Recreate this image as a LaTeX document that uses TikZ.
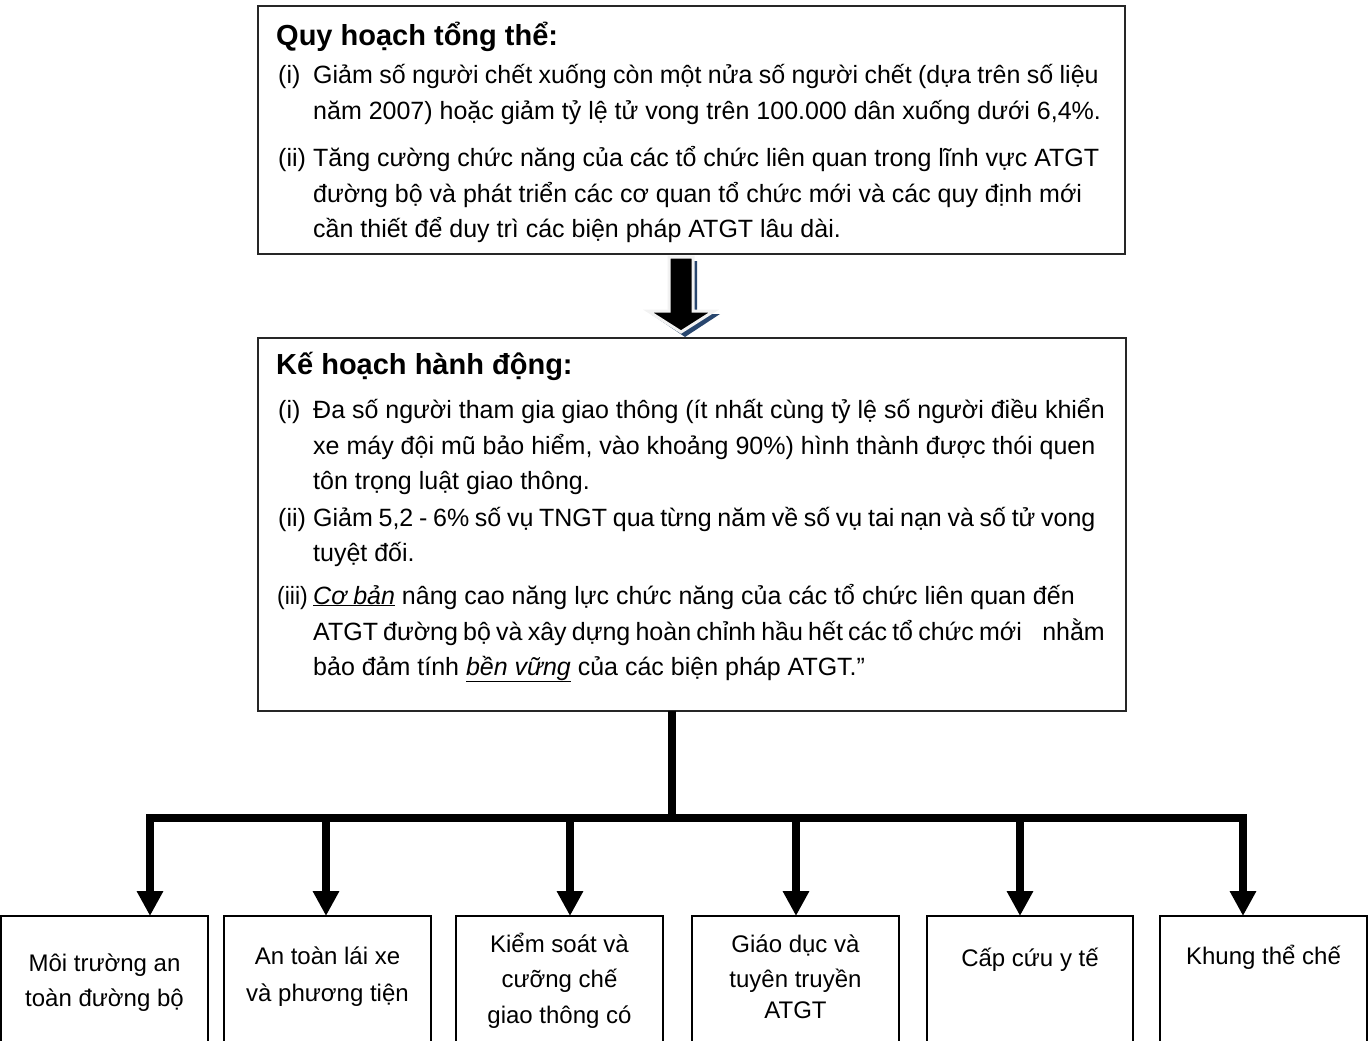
\documentclass[tikz,border=0pt]{standalone}
\usepackage{fontspec}
\setmainfont{Liberation Sans}
\usetikzlibrary{arrows.meta,calc}

\newcommand{\bodysize}{\fontsize{25}{35}\selectfont}
\newcommand{\headsize}{\fontsize{29}{35}\selectfont\bfseries}
\newcommand{\boxsize}{\fontsize{24}{35}\selectfont}
\newcommand{\emul}[1]{\underline{\textit{#1}}}
\newcommand{\tightsp}[1]{\spaceskip=#1 plus 0pt minus 0pt\relax}

\tikzset{
  x=1pt, y=-1pt,
  panel/.style={draw=black!85, line width=2pt, fill=white},
  leaf/.style={draw=black, line width=1.6pt},
  head/.style={anchor=base west, inner sep=0pt, font=\headsize},
  txt/.style={anchor=base west, inner sep=0pt, font=\bodysize},
  txtr/.style={anchor=base east, inner sep=0pt, font=\bodysize},
  leaftxt/.style={anchor=base, inner sep=0pt, font=\boxsize, align=center},
  bar/.style={line width=8pt, black},
  feed/.style={line width=8pt, black, -{Triangle[width=25pt,length=25pt]}},
}

\begin{document}
\begin{tikzpicture}
\useasboundingbox (0,0) rectangle (1369,1041);
\clip (0,0) rectangle (1369,1041);

% ---- master plan panel ----
\draw[panel] (258,6) rectangle (1125,254);
\node[head] (planT) at (276,46) {Quy hoạch tổng thể:};
\node[txt] at (278,84) {(i)};
\node[txt] at (313,84) {\tightsp{6.4pt}Giảm số người chết xuống còn một nửa số người chết (dựa trên số liệu};
\node[txt] at (313,120) {năm 2007) hoặc giảm tỷ lệ tử vong trên 100.000 dân xuống dưới 6,4\%.};
\node[txt] at (278,166) {(ii)};
\node[txt] at (313,166) {Tăng cường chức năng của các tổ chức liên quan trong lĩnh vực ATGT};
\node[txt] at (313,202) {đường bộ và phát triển các cơ quan tổ chức mới và các quy định mới};
\node[txt] at (313,237) {cần thiết để duy trì các biện pháp ATGT lâu dài.};

% ---- block arrow between panels ----
\fill[fill={rgb,255:red,40;green,70;blue,110}]
  (674,261) -- (697,261) -- (697,314) -- (720,314) -- (685,337) -- (651,314) -- (674,314) -- cycle;
\filldraw[fill=black, draw=white!95!black, line width=3pt, line join=miter]
  (669,257) -- (693,257) -- (693,311) -- (714,311) -- (681,332) -- (648,311) -- (669,311) -- cycle;

% ---- action plan panel ----
\draw[panel] (258,338) rectangle (1126,711);
\coordinate (actS) at (672,711);
\node[head] at (276,374) {Kế hoạch hành động:};
\node[txt] at (278,418) {(i)};
\node[txt] at (313,418) {Đa số người tham gia giao thông (ít nhất cùng tỷ lệ số người điều khiển};
\node[txt] at (313,454) {xe máy đội mũ bảo hiểm, vào khoảng 90\%) hình thành được thói quen};
\node[txt] at (313,489) {tôn trọng luật giao thông.};
\node[txt] at (278,526) {(ii)};
\node[txt] at (313,526) {\tightsp{5.7pt}Giảm 5,2 - 6\% số vụ TNGT qua từng năm về số vụ tai nạn và số tử vong};
\node[txt] at (313,561) {tuyệt đối.};
\node[txt] at (277,604) {\scalebox{0.92}[1]{(iii)}};
\node[txt] at (313,604) {\emul{Cơ bản} nâng cao năng lực chức năng của các tổ chức liên quan đến};
\node[txt] at (313,640) {\tightsp{5.2pt}ATGT đường bộ và xây dựng hoàn chỉnh hầu hết các tổ chức mới};
\node[txtr] at (1105,640) {nhằm};
\node[txt] at (313,675) {bảo đảm tính \emul{bền vững} của các biện pháp ATGT.”};

% ---- component boxes ----
\draw[leaf] (1,916) rectangle (208,1060);
\coordinate (b1) at (150,916);
\node[leaftxt] at (104.5,971) {Môi trường an};
\node[leaftxt] at (104.5,1006) {toàn đường bộ};

\draw[leaf] (224,916) rectangle (431,1060);
\coordinate (b2) at (326,916);
\node[leaftxt] at (327.5,964) {An toàn lái xe};
\node[leaftxt] at (327.5,1001) {và phương tiện};

\draw[leaf] (456,916) rectangle (663,1060);
\coordinate (b3) at (570,916);
\node[leaftxt] at (559.5,952) {Kiểm soát và};
\node[leaftxt] at (559.5,987) {cưỡng chế};
\node[leaftxt] at (559.5,1023) {giao thông có};

\draw[leaf] (692,916) rectangle (899,1060);
\coordinate (b4) at (796,916);
\node[leaftxt] at (795.5,952) {Giáo dục và};
\node[leaftxt] at (795.5,987) {tuyên truyền};
\node[leaftxt] at (795.5,1018) {ATGT};

\draw[leaf] (927,916) rectangle (1133,1060);
\coordinate (b5) at (1020,916);
\node[leaftxt] at (1030,966) {Cấp cứu y tế};

\draw[leaf] (1160,916) rectangle (1367,1060);
\coordinate (b6) at (1243,916);
\node[leaftxt] at (1263.5,964) {Khung thể chế};

% ---- distribution bar and feeds ----
\coordinate (jm) at (672,818);
\foreach \k in {1,...,6} { \coordinate (j\k) at (b\k |- jm); }
\draw[bar] (actS) -- (jm);
\draw[bar, line cap=rect] (j1) -- (j6);
\foreach \k in {1,...,6} { \draw[feed] (j\k) -- (b\k); }
\end{tikzpicture}
\end{document}
